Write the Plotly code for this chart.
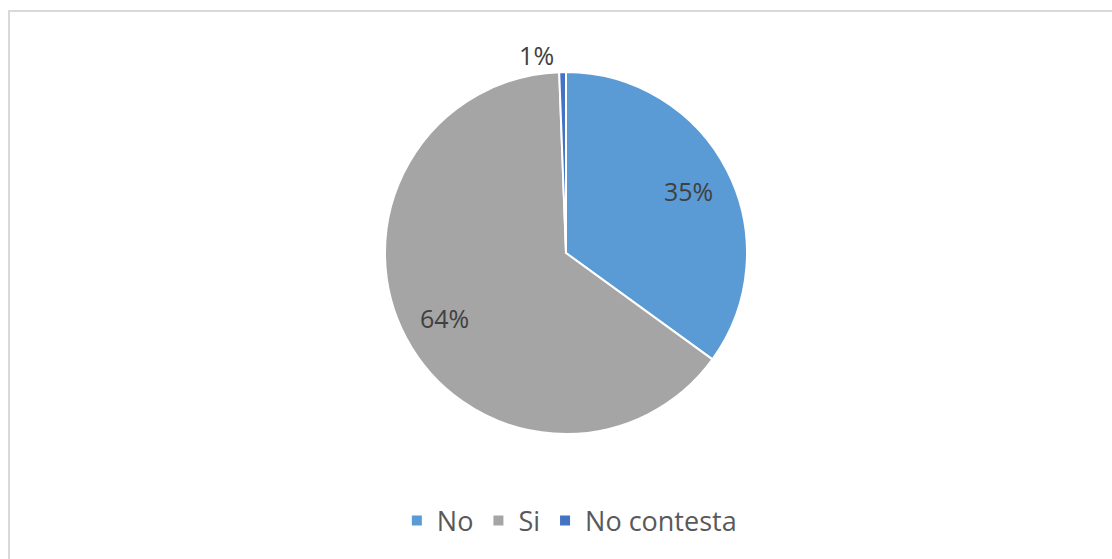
import plotly.graph_objects as go

labels = ["No", "Si", "No contesta"]
values = [35.0, 64.4, 0.6]
colors = ["#5B9BD5", "#A5A5A5", "#4472C4"]
text_positions = ["inside", "inside", "outside"]

W, H = 1112, 559
domain = dict(x=[385 / W, 747 / W], y=[(H - 434) / H, (H - 72) / H])

fig = go.Figure()
# coloured slices
fig.add_trace(go.Pie(
    labels=labels,
    values=values,
    sort=False,
    direction="clockwise",
    rotation=0,
    marker=dict(colors=colors, line=dict(color="white", width=2)),
    textinfo="none",
    hoverinfo="label+percent",
    domain=domain,
))
# transparent ring carrying the percentage labels (places them further out)
fig.add_trace(go.Pie(
    labels=labels,
    values=values,
    sort=False,
    direction="clockwise",
    rotation=0,
    hole=0.52,
    marker=dict(colors=["rgba(0,0,0,0)"] * 3, line=dict(width=0)),
    texttemplate="%{percent:.0%}",
    textposition=text_positions,
    insidetextorientation="horizontal",
    textfont=dict(family="Open Sans", size=25, color="#404040"),
    hoverinfo="skip",
    showlegend=False,
    domain=domain,
))

fig.update_layout(
    width=W, height=H,
    margin=dict(l=0, r=0, t=0, b=0),
    paper_bgcolor="white",
    plot_bgcolor="white",
    showlegend=True,
    legend=dict(
        orientation="h",
        x=0.512, xanchor="center",
        y=(H - 521) / H, yanchor="middle",
        font=dict(family="Open Sans", size=27, color="#595959"),
        traceorder="normal",
    ),
    shapes=[dict(
        type="rect", xref="paper", yref="paper",
        x0=9 / W, x1=1.02, y0=-0.02, y1=1 - 11 / H,
        line=dict(color="#D9D9D9", width=2),
        fillcolor="rgba(0,0,0,0)",
        layer="below",
    )],
)

fig.write_html("out.html", post_script="document.body.style.margin='0';",
               config={"displayModeBar": False})
